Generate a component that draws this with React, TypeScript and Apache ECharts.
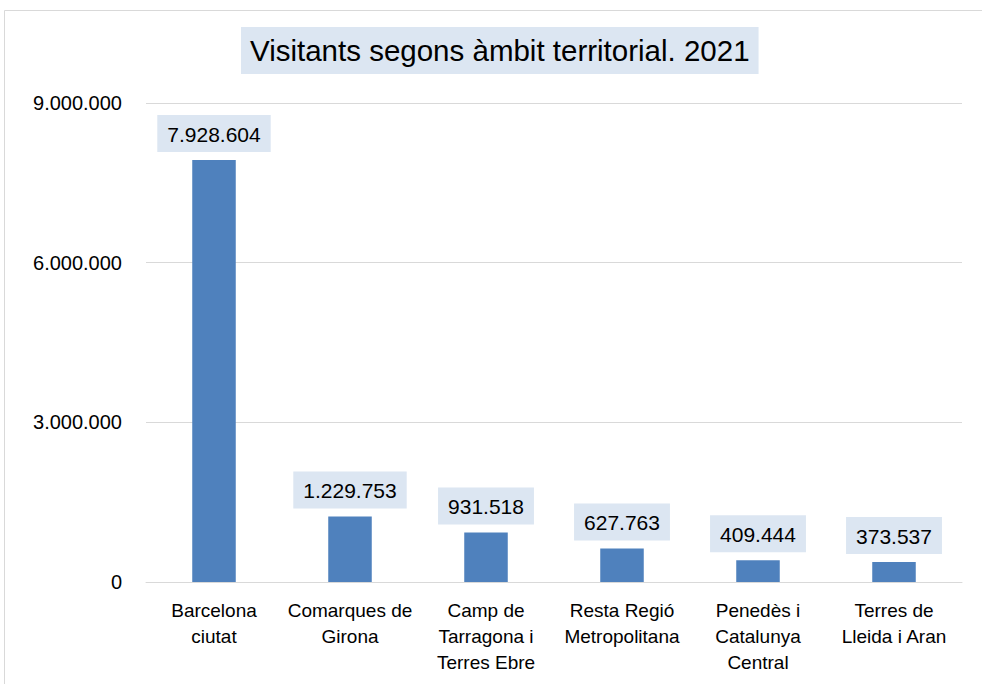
import React, { useEffect, useRef } from "react";
import * as echarts from "echarts";

const TITLE = "Visitants segons àmbit territorial. 2021";
const categories = [
  "Barcelona\nciutat",
  "Comarques de\nGirona",
  "Camp de\nTarragona i\nTerres Ebre",
  "Resta Regió\nMetropolitana",
  "Penedès i\nCatalunya\nCentral",
  "Terres de\nLleida i Aran",
];
const visitants = [7928604, 1229753, 931518, 627763, 409444, 373537];
const yMin = 0;
const yMax = 9000000;
const yInterval = 3000000;

const fmt = (v: number) => String(Math.round(v)).replace(/\B(?=(\d{3})+(?!\d))/g, ".");

const FONT = "Liberation Sans";

export default function App() {
  const ref = useRef<HTMLDivElement>(null);
  useEffect(() => {
    if (!ref.current) return;
    const chart = echarts.init(ref.current, undefined, { renderer: "svg" });
    chart.setOption({
      animation: false,
      backgroundColor: "#ffffff",
      textStyle: { fontFamily: FONT },
      title: {
        text: TITLE,
        left: 241,
        top: 27,
        padding: [8, 9, 8, 9],
        backgroundColor: "#DCE6F2",
        textStyle: {
          fontFamily: FONT,
          fontSize: 29.5,
          lineHeight: 31,
          fontWeight: "normal",
          color: "#000000",
        },
      },
      graphic: [
        {
          type: "rect",
          shape: { x: 4.5, y: 10.5, width: 1000, height: 700 },
          style: { fill: "none", stroke: "#d9d9d9", lineWidth: 1 },
          silent: true,
        },
      ],
      grid: { left: 146, right: 20, top: 103, bottom: 102, containLabel: false },
      xAxis: {
        type: "category",
        data: categories,
        axisTick: { show: false },
        axisLine: { lineStyle: { color: "#d9d9d9", width: 1 } },
        axisLabel: {
          color: "#000000",
          fontFamily: FONT,
          fontSize: 19,
          lineHeight: 26,
          margin: 15,
          interval: 0,
        },
      },
      yAxis: {
        type: "value",
        min: yMin,
        max: yMax,
        interval: yInterval,
        axisLine: { show: false },
        axisTick: { show: false },
        splitLine: { lineStyle: { color: "#d9d9d9", width: 1 } },
        axisLabel: {
          color: "#000000",
          fontFamily: FONT,
          fontSize: 20,
          margin: 24,
          formatter: (v: number) => fmt(v),
        },
      },
      series: [
        {
          type: "bar",
          data: visitants,
          barWidth: "32%",
          itemStyle: { color: "#4F81BD" },
          label: {
            show: true,
            position: "top",
            distance: 8,
            formatter: (p: any) => fmt(p.value),
            color: "#000000",
            fontFamily: FONT,
            fontSize: 21,
            lineHeight: 24,
            backgroundColor: "#DCE6F2",
            padding: [7, 10, 6, 10],
          },
        },
      ],
    });
    return () => chart.dispose();
  }, []);
  return (
    <div
      ref={ref}
      style={{ position: "fixed", left: 0, top: 0, width: 982, height: 684 }}
    />
  );
}
